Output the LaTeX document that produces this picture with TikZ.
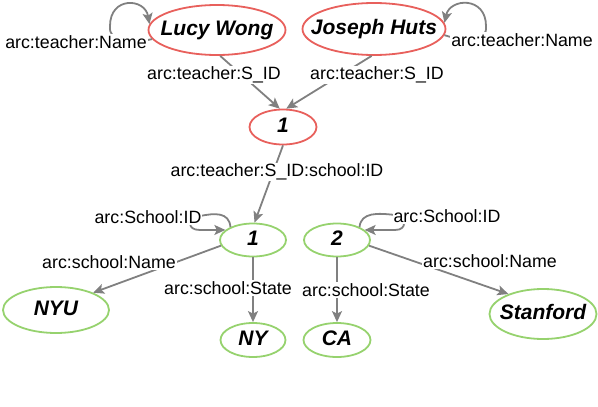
\documentclass[tikz,border=0pt]{standalone}
\usepackage{fontspec}
\setmainfont{Liberation Sans}
\usetikzlibrary{shapes.geometric,arrows.meta}
\definecolor{nodered}{RGB}{232,96,92}
\definecolor{nodegreen}{RGB}{150,210,110}
\definecolor{edgegray}{RGB}{128,128,128}
\newcommand{\enttext}[1]{\makebox[0pt]{#1}}
\tikzset{
  ent/.style={ellipse,draw=#1,line width=1.8pt,inner sep=0pt,
    text height=15pt,text depth=4pt,
    font=\fontsize{21}{24}\selectfont\bfseries\itshape},
  edge/.style={draw=edgegray,line width=1.8pt,
    -{Stealth[length=11pt,width=10pt,inset=2.5pt]}},
  lbl/.style={fill=white,inner sep=1pt,font=\fontsize{17.8}{20}\selectfont}
}
\begin{document}
\begin{tikzpicture}[x=1pt,y=-1pt]
\useasboundingbox (0,0) rectangle (598,407);
% entity nodes
\node[ent=nodered,minimum width=137pt,minimum height=50pt] (lucy) at (217,30) {\enttext{Lucy Wong}};
\node[ent=nodered,minimum width=143pt,minimum height=52pt] (joseph) at (374,29) {\enttext{Joseph Huts}};
\node[ent=nodered,minimum width=67pt,minimum height=35pt] (r1) at (283,127) {\enttext{1}};
\node[ent=nodegreen,minimum width=66pt,minimum height=33pt] (g1) at (253,240) {\enttext{1}};
\node[ent=nodegreen,minimum width=66pt,minimum height=33pt] (g2) at (337,240) {\enttext{2}};
\node[ent=nodegreen,minimum width=106pt,minimum height=46pt] (nyu) at (56,310) {\enttext{NYU}};
\node[ent=nodegreen,minimum width=65pt,minimum height=34pt] (ny) at (253,340) {\enttext{NY}};
\node[ent=nodegreen,minimum width=67pt,minimum height=34pt] (ca) at (337,340) {\enttext{CA}};
\node[ent=nodegreen,minimum width=107pt,minimum height=50pt] (stanford) at (543,314) {\enttext{Stanford}};
% edges
\draw[edge] (lucy.188) .. controls (130,44) and (108,42) .. (110,26)
  .. controls (110,-4) and (145,-2) .. (lucy.175);
\draw[edge] (joseph.-5) .. controls (465,42) and (488,42) .. (486,26)
  .. controls (486,-4) and (450,-2) .. (joseph.5);
\draw[edge] (lucy.-83) -- (r1.100);
\draw[edge] (joseph.-95) -- (r1.80);
\draw[edge] (r1.south) -- (g1.85);
\draw[edge] (g1.150) .. controls (229,212) and (215,213) .. (200,216)
  .. controls (188,218) and (186,230) .. (200,230) -- (g1.160);
\draw[edge] (g2.30) .. controls (361,212) and (378,213) .. (395,215)
  .. controls (406,217) and (408,230) .. (395,230) -- (g2.20);
\draw[edge] (g1.190) -- (nyu.25);
\draw[edge] (g1.south) -- (ny.north);
\draw[edge] (g2.south) -- (ca.north);
\draw[edge] (g2.-10) -- (stanford.150);
% labels
\node[lbl] (l1) at (76,42) {arc:teacher:Name};
\node[lbl] (l2) at (522,40) {arc:teacher:Name};
\node[lbl] (l3) at (214,75) {arc:teacher:S\_ID};
\node[lbl] (l4) at (377,75) {arc:teacher:S\_ID};
\node[lbl] (l5) at (277,172) {arc:teacher:S\_ID:school:ID};
\node[lbl] (l6) at (148,217) {arc:School:ID};
\node[lbl] (l7) at (447,216) {arc:School:ID};
\node[lbl] (l8) at (109,262) {arc:school:Name};
\node[lbl] (l9) at (228,288) {arc:school:State};
\node[lbl] (l10) at (366,290) {arc:school:State};
\node[lbl] (l11) at (490,261) {arc:school:Name};
\end{tikzpicture}
\end{document}
